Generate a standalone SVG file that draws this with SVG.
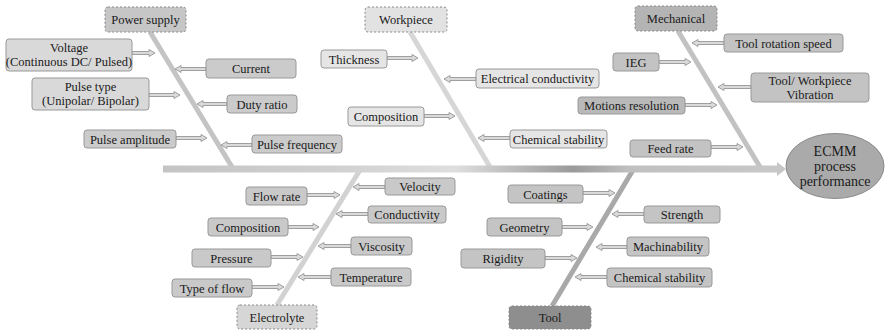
<svg xmlns="http://www.w3.org/2000/svg" width="885" height="330" viewBox="0 0 885 330">
<style>
.box{stroke:#999;stroke-width:1}
.cat{stroke:#888;stroke-width:1;stroke-dasharray:2 2}
.t{font-family:"Liberation Serif","Times New Roman",serif;font-size:12.5px;fill:#1a1a1a;text-anchor:middle}
.big{font-size:14px}
.arr{fill:#dadada;stroke:#8c8c8c;stroke-width:0.8}
.bone{stroke-width:5;stroke-linecap:butt;fill:none}
.ps1{fill:#d9d9d9}.ps2{fill:#cbcbcb}.wp{fill:#e5e5e5}.me{fill:#c3c3c3}.me2{fill:#b9b9b9}.el{fill:#c9c9c9}.to{fill:#c4c4c4}
</style>
<defs>
<linearGradient id="spineGrad" gradientUnits="userSpaceOnUse" x1="163" y1="0" x2="785" y2="0">
<stop offset="0" stop-color="#c4c4c4"/>
<stop offset="0.27" stop-color="#d0d0d0"/>
<stop offset="0.47" stop-color="#dedede"/>
<stop offset="0.54" stop-color="#c4c4c4"/>
<stop offset="0.66" stop-color="#9a9a9a"/>
<stop offset="0.75" stop-color="#c0c0c0"/>
<stop offset="1" stop-color="#c8c8c8"/>
</linearGradient>
</defs>
<rect width="885" height="330" fill="#ffffff"/>
<g id="connectors">
<line class="bone" x1="150" y1="32" x2="232" y2="167" stroke="#c4c4c4"/>
<line class="bone" x1="410" y1="32" x2="490" y2="167" stroke="#d6d6d6"/>
<line class="bone" x1="678" y1="31" x2="760" y2="167" stroke="#c2c2c2"/>
<line class="bone" x1="360" y1="170" x2="277" y2="305" stroke="#d2d2d2"/>
<line class="bone" x1="633" y1="170" x2="552" y2="306" stroke="#a9a9a9"/>
<rect x="163" y="165.5" width="615" height="7" fill="url(#spineGrad)"/>
<polygon points="777,162 786,169 777,176" fill="#c6c6c6"/>
<path class="arr" d="M132 51.5 H149 V49.5 L155 53 L149 56.5 V54.5 H132 Z"/>
<path class="arr" d="M206 67.5 H181 V65.5 L175 69 L181 72.5 V70.5 H206 Z"/>
<path class="arr" d="M149 93.5 H174 V91.5 L180 95 L174 98.5 V96.5 H149 Z"/>
<path class="arr" d="M227 102.5 H203 V100.5 L197 104 L203 107.5 V105.5 H227 Z"/>
<path class="arr" d="M176 136.5 H201 V134.5 L207 138 L201 141.5 V139.5 H176 Z"/>
<path class="arr" d="M252 143.5 H227 V141.5 L221 145 L227 148.5 V146.5 H252 Z"/>
<path class="arr" d="M387 56.5 H412 V54.5 L418 58 L412 61.5 V59.5 H387 Z"/>
<path class="arr" d="M476 77.5 H450 V75.5 L444 79 L450 82.5 V80.5 H476 Z"/>
<path class="arr" d="M424 114.5 H449 V112.5 L455 116 L449 119.5 V117.5 H424 Z"/>
<path class="arr" d="M510 136.5 H484 V134.5 L478 138 L484 141.5 V139.5 H510 Z"/>
<path class="arr" d="M724 41.5 H698 V39.5 L692 43 L698 46.5 V44.5 H724 Z"/>
<path class="arr" d="M659 60.5 H685 V58.5 L691 62 L685 65.5 V63.5 H659 Z"/>
<path class="arr" d="M751 85.5 H724 V83.5 L718 87 L724 90.5 V88.5 H751 Z"/>
<path class="arr" d="M685 103.5 H711 V101.5 L717 105 L711 108.5 V106.5 H685 Z"/>
<path class="arr" d="M711 145.5 H737 V143.5 L743 147 L737 150.5 V148.5 H711 Z"/>
<path class="arr" d="M385 185.5 H359 V183.5 L353 187 L359 190.5 V188.5 H385 Z"/>
<path class="arr" d="M307 193.5 H334 V191.5 L340 195 L334 198.5 V196.5 H307 Z"/>
<path class="arr" d="M368 212.5 H342 V210.5 L336 214 L342 217.5 V215.5 H368 Z"/>
<path class="arr" d="M288 225.5 H313 V223.5 L319 227 L313 230.5 V228.5 H288 Z"/>
<path class="arr" d="M351 244.5 H324 V242.5 L318 246 L324 249.5 V247.5 H351 Z"/>
<path class="arr" d="M271 255.5 H297 V253.5 L303 257 L297 260.5 V258.5 H271 Z"/>
<path class="arr" d="M331 275.5 H304 V273.5 L298 277 L304 280.5 V278.5 H331 Z"/>
<path class="arr" d="M252 285.5 H278 V283.5 L284 287 L278 290.5 V288.5 H252 Z"/>
<path class="arr" d="M583 191.5 H609 V189.5 L615 193 L609 196.5 V194.5 H583 Z"/>
<path class="arr" d="M644 212.5 H618 V210.5 L612 214 L618 217.5 V215.5 H644 Z"/>
<path class="arr" d="M562 225.5 H587 V223.5 L593 227 L587 230.5 V228.5 H562 Z"/>
<path class="arr" d="M627 245.5 H602 V243.5 L596 247 L602 250.5 V248.5 H627 Z"/>
<path class="arr" d="M545 256.5 H571 V254.5 L577 258 L571 261.5 V259.5 H545 Z"/>
<path class="arr" d="M607 275.5 H581 V273.5 L575 277 L581 280.5 V278.5 H607 Z"/>
</g>
<g id="power-supply"><rect class="cat" x="105" y="7" width="81" height="25" rx="3" fill="#c6c6c6"/><text class="t" x="145.5" y="24">Power supply</text></g>
<g id="voltage"><rect class="box ps1" x="6" y="39" width="126" height="32" rx="3"/><text class="t" x="69" y="52">Voltage</text><text class="t" x="69" y="66">(Continuous DC/ Pulsed)</text></g>
<g id="current"><rect class="box ps2" x="206" y="59" width="90" height="19" rx="3"/><text class="t" x="251" y="72.5">Current</text></g>
<g id="pulse-type"><rect class="box ps1" x="32" y="78" width="117" height="32" rx="3"/><text class="t" x="90.5" y="91">Pulse type</text><text class="t" x="90.5" y="105">(Unipolar/ Bipolar)</text></g>
<g id="duty-ratio"><rect class="box ps2" x="227" y="95" width="70" height="18" rx="3"/><text class="t" x="262" y="108.5">Duty ratio</text></g>
<g id="pulse-amplitude"><rect class="box ps2" x="84" y="130" width="92" height="18" rx="3"/><text class="t" x="130" y="143.5">Pulse amplitude</text></g>
<g id="pulse-frequency"><rect class="box ps2" x="252" y="135" width="90" height="18" rx="3"/><text class="t" x="297" y="148.5">Pulse frequency</text></g>
<g id="workpiece"><rect class="cat" x="365" y="7" width="82" height="25" rx="3" fill="#e2e2e2"/><text class="t" x="406" y="24">Workpiece</text></g>
<g id="thickness"><rect class="box wp" x="321" y="50" width="66" height="18" rx="3"/><text class="t" x="354" y="63.5">Thickness</text></g>
<g id="electrical-conductivity"><rect class="box wp" x="476" y="69" width="123" height="19" rx="3"/><text class="t" x="537.5" y="82.5">Electrical conductivity</text></g>
<g id="wp-composition"><rect class="box wp" x="348" y="107" width="76" height="19" rx="3"/><text class="t" x="386" y="120.5">Composition</text></g>
<g id="wp-chemical-stability"><rect class="box wp" x="510" y="130" width="97" height="18" rx="3"/><text class="t" x="558.5" y="143.5">Chemical stability</text></g>
<g id="mechanical"><rect class="cat" x="635" y="6" width="82" height="25" rx="3" fill="#b4b4b4"/><text class="t" x="676" y="23">Mechanical</text></g>
<g id="tool-rotation-speed"><rect class="box me" x="724" y="34" width="119" height="18" rx="3"/><text class="t" x="783.5" y="47.5">Tool rotation speed</text></g>
<g id="ieg"><rect class="box me" x="613" y="53" width="46" height="18" rx="3"/><text class="t" x="636" y="66.5">IEG</text></g>
<g id="vibration"><rect class="box me" x="751" y="73" width="118" height="29" rx="3"/><text class="t" x="810" y="85">Tool/ Workpiece</text><text class="t" x="810" y="99">Vibration</text></g>
<g id="motions-resolution"><rect class="box me2" x="578" y="97" width="107" height="17" rx="3"/><text class="t" x="631.5" y="110">Motions resolution</text></g>
<g id="feed-rate"><rect class="box me" x="630" y="140" width="81" height="17" rx="3"/><text class="t" x="670.5" y="153">Feed rate</text></g>
<g id="ecmm"><ellipse cx="835" cy="166" rx="49" ry="32.5" fill="#aaaaaa" stroke="#8a8a8a" stroke-width="1"/><text class="t big" x="835" y="156">ECMM</text><text class="t big" x="835" y="171">process</text><text class="t big" x="835" y="186">performance</text></g>
<g id="electrolyte"><rect class="cat" x="237" y="305" width="80" height="24" rx="3" fill="#d6d6d6"/><text class="t" x="277" y="321.5">Electrolyte</text></g>
<g id="velocity"><rect class="box el" x="385" y="178" width="70" height="17" rx="3"/><text class="t" x="420" y="191">Velocity</text></g>
<g id="flow-rate"><rect class="box el" x="246" y="187" width="61" height="18" rx="3"/><text class="t" x="276.5" y="200.5">Flow rate</text></g>
<g id="conductivity"><rect class="box el" x="368" y="206" width="78" height="17" rx="3"/><text class="t" x="407" y="219">Conductivity</text></g>
<g id="el-composition"><rect class="box el" x="208" y="218" width="80" height="18" rx="3"/><text class="t" x="248" y="231.5">Composition</text></g>
<g id="viscosity"><rect class="box el" x="351" y="237" width="61" height="18" rx="3"/><text class="t" x="381.5" y="250.5">Viscosity</text></g>
<g id="pressure"><rect class="box el" x="192" y="249" width="79" height="18" rx="3"/><text class="t" x="231.5" y="262.5">Pressure</text></g>
<g id="temperature"><rect class="box el" x="331" y="268" width="80" height="18" rx="3"/><text class="t" x="371" y="281.5">Temperature</text></g>
<g id="type-of-flow"><rect class="box el" x="172" y="279" width="80" height="18" rx="3"/><text class="t" x="212" y="292.5">Type of flow</text></g>
<g id="tool"><rect class="cat" x="509" y="306" width="82" height="23" rx="3" fill="#8e8e8e"/><text class="t" x="550" y="322">Tool</text></g>
<g id="coatings"><rect class="box to" x="508" y="185" width="75" height="18" rx="3"/><text class="t" x="545.5" y="198.5">Coatings</text></g>
<g id="strength"><rect class="box to" x="644" y="206" width="76" height="17" rx="3"/><text class="t" x="682" y="219">Strength</text></g>
<g id="geometry"><rect class="box to" x="487" y="218" width="75" height="18" rx="3"/><text class="t" x="524.5" y="231.5">Geometry</text></g>
<g id="machinability"><rect class="box to" x="627" y="237" width="82" height="19" rx="3"/><text class="t" x="668" y="250.5">Machinability</text></g>
<g id="rigidity"><rect class="box to" x="461" y="249" width="84" height="19" rx="3"/><text class="t" x="503" y="262.5">Rigidity</text></g>
<g id="tool-chemical-stability"><rect class="box to" x="607" y="268" width="105" height="19" rx="3"/><text class="t" x="659.5" y="281.5">Chemical stability</text></g>
</svg>
